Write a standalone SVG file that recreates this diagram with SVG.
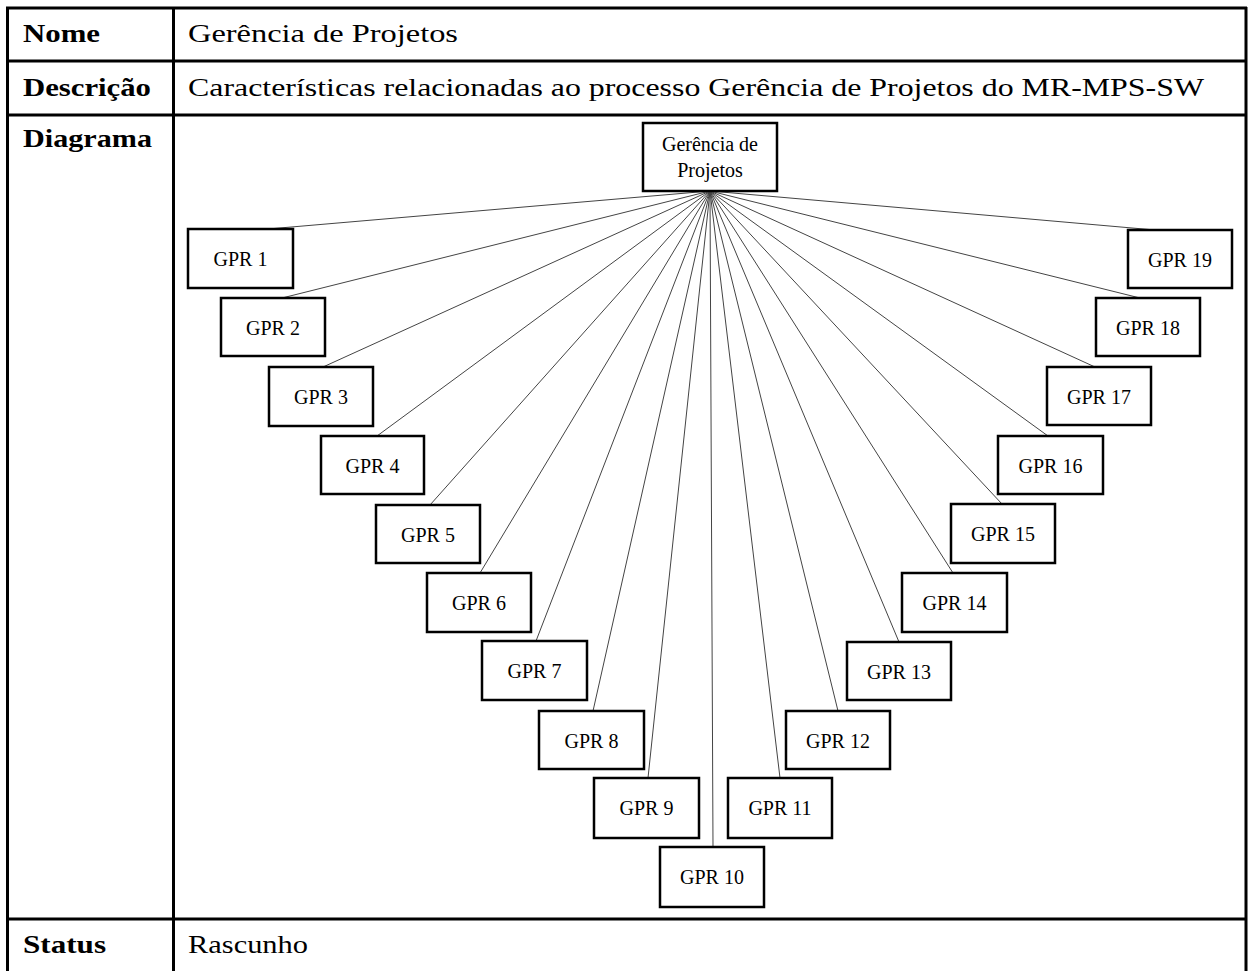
<svg xmlns="http://www.w3.org/2000/svg" width="1251" height="971" viewBox="0 0 1251 971">
  <style>
    .grid { stroke: #000; stroke-width: 3; fill: none; }
    .lbl { font-family: "Liberation Serif", "Times New Roman", serif; font-size: 25px; font-weight: bold; fill: #000; }
    .val { font-family: "Liberation Serif", "Times New Roman", serif; font-size: 25px; fill: #000; }
    .box { fill: #fff; stroke: #000; stroke-width: 2.5; }
    .btxt { font-family: "Liberation Serif", "Times New Roman", serif; font-size: 20px; fill: #000; text-anchor: middle; }
    .edge { stroke: #444; stroke-width: 1; fill: none; }
  </style>
  <rect width="1251" height="971" fill="#fff"/>

  <!-- table grid -->
  <g id="table">
    <line class="grid" x1="6" y1="8" x2="1247" y2="8"/>
    <line class="grid" x1="6" y1="61" x2="1247" y2="61"/>
    <line class="grid" x1="6" y1="115" x2="1247" y2="115"/>
    <line class="grid" x1="6" y1="919" x2="1247" y2="919"/>
    <line class="grid" x1="7.5" y1="7" x2="7.5" y2="971"/>
    <line class="grid" x1="173.5" y1="7" x2="173.5" y2="971"/>
    <line class="grid" x1="1246" y1="7" x2="1246" y2="971"/>
    <text class="lbl" x="23" y="42" textLength="77" lengthAdjust="spacingAndGlyphs">Nome</text>
    <text class="val" x="188" y="42" textLength="270" lengthAdjust="spacingAndGlyphs">Gerência de Projetos</text>
    <text class="lbl" x="23" y="96" textLength="128" lengthAdjust="spacingAndGlyphs">Descrição</text>
    <text class="val" x="188" y="96" textLength="1016" lengthAdjust="spacingAndGlyphs">Características relacionadas ao processo Gerência de Projetos do MR-MPS-SW</text>
    <text class="lbl" x="23" y="147" textLength="129" lengthAdjust="spacingAndGlyphs">Diagrama</text>
    <text class="lbl" x="23" y="953" textLength="83" lengthAdjust="spacingAndGlyphs">Status</text>
    <text class="val" x="188" y="953" textLength="120" lengthAdjust="spacingAndGlyphs">Rascunho</text>
  </g>

  <!-- connectors from the root to each GPR item -->
  <g id="connectors">
    <line class="edge" x1="710" y1="191" x2="268" y2="229"/>
    <line class="edge" x1="710" y1="191" x2="282" y2="298"/>
    <line class="edge" x1="710" y1="191" x2="323" y2="367"/>
    <line class="edge" x1="710" y1="191" x2="377" y2="436"/>
    <line class="edge" x1="710" y1="191" x2="430" y2="505"/>
    <line class="edge" x1="710" y1="191" x2="480" y2="573"/>
    <line class="edge" x1="710" y1="191" x2="536" y2="641"/>
    <line class="edge" x1="710" y1="191" x2="593" y2="711"/>
    <line class="edge" x1="710" y1="191" x2="648" y2="778"/>
    <line class="edge" x1="710" y1="191" x2="713" y2="847"/>
    <line class="edge" x1="710" y1="191" x2="780" y2="778"/>
    <line class="edge" x1="710" y1="191" x2="838" y2="711"/>
    <line class="edge" x1="710" y1="191" x2="899" y2="642"/>
    <line class="edge" x1="710" y1="191" x2="953" y2="573"/>
    <line class="edge" x1="710" y1="191" x2="1002" y2="504"/>
    <line class="edge" x1="710" y1="191" x2="1048" y2="436"/>
    <line class="edge" x1="710" y1="191" x2="1095" y2="367"/>
    <line class="edge" x1="710" y1="191" x2="1140" y2="298"/>
    <line class="edge" x1="710" y1="191" x2="1155" y2="230"/>
  </g>

  <!-- root node -->
  <g id="root">
    <rect class="box" x="643" y="123" width="134" height="68"/>
    <text class="btxt" x="710" y="151" font-size="17" textLength="96" lengthAdjust="spacing">Gerência  de</text>
    <text class="btxt" x="710" y="177" font-size="17">Projetos</text>
  </g>

  <!-- GPR items -->
  <g id="gpr1"><rect class="box" x="188" y="229" width="105" height="59"/><text class="btxt" x="240.5" y="266">GPR 1</text></g>
  <g id="gpr2"><rect class="box" x="221" y="298" width="104" height="58"/><text class="btxt" x="273" y="335">GPR 2</text></g>
  <g id="gpr3"><rect class="box" x="269" y="367" width="104" height="59"/><text class="btxt" x="321" y="404">GPR 3</text></g>
  <g id="gpr4"><rect class="box" x="321" y="436" width="103" height="58"/><text class="btxt" x="372.5" y="473">GPR 4</text></g>
  <g id="gpr5"><rect class="box" x="376" y="505" width="104" height="58"/><text class="btxt" x="428" y="542">GPR 5</text></g>
  <g id="gpr6"><rect class="box" x="427" y="573" width="104" height="59"/><text class="btxt" x="479" y="610">GPR 6</text></g>
  <g id="gpr7"><rect class="box" x="482" y="641" width="105" height="59"/><text class="btxt" x="534.5" y="678">GPR 7</text></g>
  <g id="gpr8"><rect class="box" x="539" y="711" width="105" height="58"/><text class="btxt" x="591.5" y="748">GPR 8</text></g>
  <g id="gpr9"><rect class="box" x="594" y="778" width="105" height="60"/><text class="btxt" x="646.5" y="815">GPR 9</text></g>
  <g id="gpr10"><rect class="box" x="660" y="847" width="104" height="60"/><text class="btxt" x="712" y="884">GPR 10</text></g>
  <g id="gpr11"><rect class="box" x="728" y="778" width="104" height="60"/><text class="btxt" x="780" y="815">GPR 11</text></g>
  <g id="gpr12"><rect class="box" x="786" y="711" width="104" height="58"/><text class="btxt" x="838" y="748">GPR 12</text></g>
  <g id="gpr13"><rect class="box" x="847" y="642" width="104" height="58"/><text class="btxt" x="899" y="679">GPR 13</text></g>
  <g id="gpr14"><rect class="box" x="902" y="573" width="105" height="59"/><text class="btxt" x="954.5" y="610">GPR 14</text></g>
  <g id="gpr15"><rect class="box" x="951" y="504" width="104" height="59"/><text class="btxt" x="1003" y="541">GPR 15</text></g>
  <g id="gpr16"><rect class="box" x="998" y="436" width="105" height="58"/><text class="btxt" x="1050.5" y="473">GPR 16</text></g>
  <g id="gpr17"><rect class="box" x="1047" y="367" width="104" height="58"/><text class="btxt" x="1099" y="404">GPR 17</text></g>
  <g id="gpr18"><rect class="box" x="1096" y="298" width="104" height="58"/><text class="btxt" x="1148" y="335">GPR 18</text></g>
  <g id="gpr19"><rect class="box" x="1128" y="230" width="104" height="58"/><text class="btxt" x="1180" y="267">GPR 19</text></g>
</svg>
